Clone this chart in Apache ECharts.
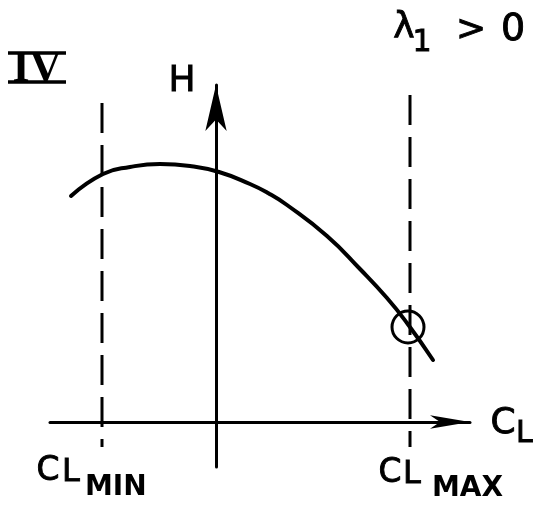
<!DOCTYPE html>
<html>
<head>
<meta charset="utf-8">
<script src="https://cdn.jsdelivr.net/npm/echarts@6/dist/echarts.min.js"></script>
<style>
  html, body { margin: 0; padding: 0; background: #fff; }
  #chart { width: 535px; height: 506px; }
</style>
</head>
<body>
<div id="chart"></div>
<script>
// H as a function of C_L (chart units; the H axis sits at C_L = 0)
const curveCL = [-14.5, -11.3, -8.6, -5.6, -2.6, 0.3, 3.4, 5.2, 7.1, 11.1, 14.4, 17.1, 19.1, 21.7];
const curveH  = [22.6, 24.8, 25.5, 25.8, 25.6, 25.0, 23.8, 22.9, 21.7, 18.6, 15.3, 12.4, 9.9, 6.2];

// Admissible C_L bounds (vertical dashed lines)
const boundCL     = [-11.4, 19.4];
const boundTop    = [31.9, 32.7];
const boundBottom = [-2.5, -2.5];
const boundNames  = ['MIN', 'MAX'];

// Optimum on the upper bound
const optimumPoint = [19.2, 9.5];

// Axis extents
const clRange = [-16.6, 25.4];
const hRange  = [-4.5, 33.7];

const INK = '#000';
const FONT = '"DejaVu Sans", sans-serif';

const curveData = curveCL.map((c, i) => [c, curveH[i]]);

const boundSeries = boundCL.map((c, i) => ({
  type: 'line',
  name: 'C_L ' + boundNames[i],
  data: [[c, boundTop[i]], [c, boundBottom[i]]],
  clip: false,
  showSymbol: false,
  silent: true,
  lineStyle: { color: INK, width: 3, type: [30, 12] }
}));

const chart = echarts.init(document.getElementById('chart'), null, { renderer: 'canvas' });

chart.setOption({
  animation: false,
  backgroundColor: '#fff',
  grid: { left: 50, top: 85, width: 420, height: 382, containLabel: false },
  xAxis: {
    type: 'value',
    min: clRange[0], max: clRange[1],
    axisLine: {
      onZero: true,
      symbol: ['none', 'arrow'],
      symbolSize: [10, 40],
      lineStyle: { color: INK, width: 3 }
    },
    axisTick: { show: false },
    axisLabel: { show: false },
    splitLine: { show: false }
  },
  yAxis: {
    type: 'value',
    min: hRange[0], max: hRange[1],
    axisLine: {
      show: true,
      onZero: true,
      symbol: ['none', 'arrow'],
      symbolSize: [16, 46],
      lineStyle: { color: INK, width: 3 }
    },
    axisTick: { show: false },
    axisLabel: { show: false },
    splitLine: { show: false }
  },
  series: [
    {
      type: 'line',
      name: 'H',
      data: curveData,
      smooth: 0.5,
      showSymbol: false,
      silent: true,
      lineStyle: { color: INK, width: 4, cap: 'round' }
    },
    ...boundSeries,
    {
      type: 'scatter',
      name: 'optimum',
      data: [optimumPoint],
      symbol: 'circle',
      symbolSize: 32,
      silent: true,
      itemStyle: { color: 'rgba(0,0,0,0)', borderColor: INK, borderWidth: 3, opacity: 1 }
    }
  ]
});

// Text annotations
function txt(text, x, y, size, opts) {
  opts = opts || {};
  return {
    type: 'text', x: x, y: y, silent: true,
    style: {
      text: text,
      font: (opts.weight || 'normal') + ' ' + size + 'px ' + (opts.family || FONT),
      fill: INK,
      stroke: opts.noStroke ? null : INK,
      lineWidth: opts.noStroke ? 0 : 0.9,
      align: opts.align || 'center',
      verticalAlign: 'middle',
      textAlign: opts.align || 'center',
      textVerticalAlign: 'middle'
    }
  };
}

// label offsets from the lower end of each bound line
const boundLabelOffsets = [
  { c: [-54, 24], l: [-40, 26], s: [-17, 41] },
  { c: [-20, 26], l: [-7, 28], s: [22, 42] }
];

function boundLabel(i) {
  const p = chart.convertToPixel({ gridIndex: 0 }, [boundCL[i], boundBottom[i]]);
  const o = boundLabelOffsets[i];
  return [
    txt('C', p[0] + o.c[0], p[1] + o.c[1], 33),
    txt('L', p[0] + o.l[0], p[1] + o.l[1], 32, { align: 'left' }),
    txt(boundNames[i], p[0] + o.s[0], p[1] + o.s[1], 28, { align: 'left', weight: 'bold', noStroke: true })
  ];
}

const origin = chart.convertToPixel({ gridIndex: 0 }, [0, 0]);

chart.setOption({
  graphic: [
    // Roman numeral with bars
    txt('IV', 37, 70, 44, { weight: 'bold', family: '"Liberation Serif", serif', noStroke: true }),
    { type: 'line', silent: true, shape: { x1: 8, y1: 53, x2: 66, y2: 53 }, style: { stroke: INK, lineWidth: 3.5 } },
    { type: 'line', silent: true, shape: { x1: 8, y1: 82, x2: 66, y2: 82 }, style: { stroke: INK, lineWidth: 3.5 } },
    // axis names
    txt('H', origin[0] - 34, 81.5, 36),
    txt('C', 503, origin[1] + 2, 36),
    txt('L', 516, origin[1] + 12, 30, { align: 'left' }),
    // condition
    txt('λ', 404, 28, 36),
    txt('1', 422, 43, 30),
    txt('>', 471, 31, 36),
    txt('0', 513, 30.5, 38),
    ...boundLabel(0),
    ...boundLabel(1)
  ]
});
</script>
</body>
</html>
